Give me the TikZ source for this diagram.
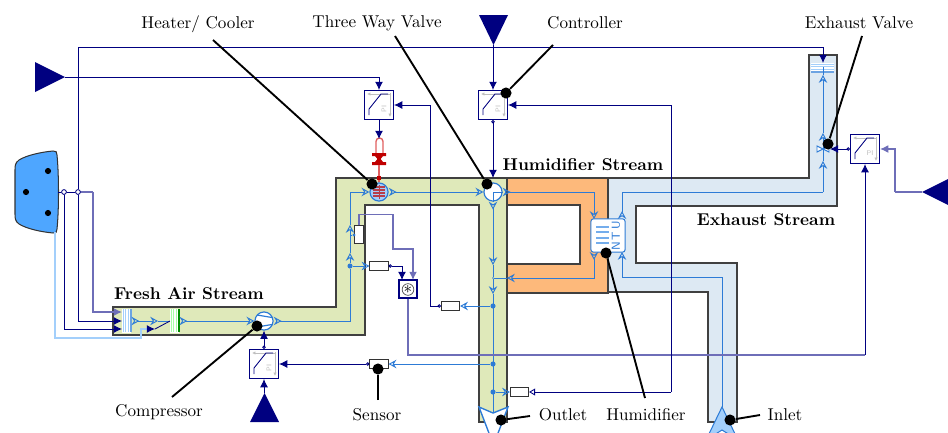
\documentclass[tikz,border=0pt]{standalone}
\usepackage{tikz}
\usetikzlibrary{arrows.meta}

\definecolor{ctrlblue}{HTML}{000080}
\definecolor{softblue}{HTML}{6E6EB8}
\definecolor{flowblue}{HTML}{2D7BD6}
\definecolor{paleblue}{HTML}{A3CFFB}
\definecolor{freshfill}{HTML}{DFE9BA}
\definecolor{humfill}{HTML}{FDB97B}
\definecolor{exhfill}{HTML}{DDE9F3}
\definecolor{connfill}{HTML}{4EA6FF}
\definecolor{heatred}{HTML}{C00000}
\definecolor{heatsoft}{HTML}{E06060}

\tikzset{
  flowtip/.tip={Stealth[open,length=4.6pt,width=5pt,inset=1.6pt]},
  flowrev/.tip={Stealth[open,reversed,length=4.6pt,width=5pt,inset=1.6pt]},
  ctrltip/.tip={Latex[length=4.8pt,width=4.6pt]},
  porttip/.tip={Circle[open,length=2pt,width=2pt]}
}

\begin{document}
\begin{tikzpicture}[
    x=0.585pt, y=-0.585pt,
    channel/.style={draw=black!75, line width=.7pt},
    pipe/.style={draw=flowblue, line width=.55pt},
    pipeend/.style={pipe, -flowtip},
    pipeout/.style={pipe, flowrev-},
    pipeboth/.style={pipe, flowrev-flowtip},
    ctrlline/.style={draw=ctrlblue, line width=.5pt},
    softline/.style={draw=softblue, line width=.7pt},
    ctrlarrow/.style={ctrlline, -ctrltip},
    softarrow/.style={softline, -ctrltip},
    leader/.style={draw=black, line width=1.1pt},
    leaddot/.style={circle, fill=black, minimum size=6.5pt, inner sep=0pt},
    caption/.style={inner sep=0pt},
    stream/.style={inner sep=0pt, font=\bfseries},
    tapdot/.style={circle, fill=flowblue, minimum size=3pt, inner sep=0pt},
    wiredot/.style={circle, draw=ctrlblue, fill=white, line width=.5pt, minimum size=2.8pt, inner sep=0pt},
    sensbox/.style={draw=black!80, fill=white, line width=.6pt, minimum width=10.6pt, minimum height=5.6pt, inner sep=0pt},
    pibox/.style 2 args={draw=ctrlblue, fill=white, line width=.6pt, minimum size=17pt, inner sep=0pt,
      path picture={
        \begin{scope}[shift={(path picture bounding box.center)},#1]
          \draw[draw=black!25, line width=.5pt, -{Latex[length=2pt,width=2pt]}] (12,-11) -- (-12,-11);
          \draw[draw=black!25, line width=.5pt, -{Latex[length=2pt,width=2pt]}] (11,-12) -- (11,12);
          \draw[ctrlline] (-10,10) -- (-10,4) -- (2,-11) -- (9,-11);
          \node[text=black!25, font=\fontsize{4}{4}\selectfont\sffamily, inner sep=0pt, rotate=#2] (pitext) at (5,4) {PI};
        \end{scope}}},
    compart/.style={circle, draw=flowblue, fill=white, line width=.7pt, minimum size=10.6pt, inner sep=0pt}
  ]
    \useasboundingbox (0,0) rectangle (948,432);

    % stream channels
    \draw[channel, fill=freshfill] (113,307) -- (336,307) -- (336,178) -- (507,178) -- (507,422) -- (479,422)
      -- (479,205) -- (365,205) -- (365,335) -- (113,335) -- cycle;
    \draw[channel, fill=humfill] (507,178) -- (608,178) -- (608,293) -- (507,293) -- (507,264) -- (580,264)
      -- (580,205) -- (507,205) -- cycle;
    \draw[channel, fill=exhfill] (608,178) -- (809,178) -- (809,55) -- (837,55) -- (837,206) -- (636,206)
      -- (636,263) -- (737,263) -- (737,422) -- (708,422) -- (708,292) -- (608,292) -- cycle;

    % named points
    \coordinate (airsrc) at (65,77);
    \coordinate (setsrc) at (493,45);
    \coordinate (exhsrc) at (922,192);
    \coordinate (compsrc) at (264,393);
    \coordinate (junca) at (64,192);
    \coordinate (juncb) at (78,192);
    \coordinate (connend) at (58,192);
    \coordinate (wirea) at (122,312);
    \coordinate (wireb) at (122,321);
    \coordinate (wirec) at (122,329);
    \coordinate (wired) at (93,192);
    \coordinate (topturn) at (823,47);
    \coordinate (exhport) at (823,63);
    \coordinate (gaugein) at (155,329);
    \coordinate (gaugeback) at (148,329);
    \coordinate (gaugeend) at (170,321);
    \coordinate (gaugetip) at (158,321);
    \coordinate (palea) at (55,232);
    \coordinate (paleb) at (141,338);
    \coordinate (palec) at (141,329);
    \coordinate (fresha) at (350,253);
    \coordinate (freshb) at (350,235);
    \coordinate (freshc) at (350,225);
    \coordinate (humin) at (594,219);
    \coordinate (humout) at (594,252);
    \coordinate (exhin) at (622,252);
    \coordinate (exhout) at (622,219);
    \coordinate (mixtip) at (507,278);
    \coordinate (exhturna) at (622,277);
    \coordinate (exhturnb) at (823,192);
    \coordinate (exhtipa) at (823,161);
    \coordinate (exhtipb) at (823,133);
    \coordinate (exhtipc) at (823,75);
    \coordinate (exhtop) at (823,67);
    \coordinate (inletport) at (722,407);
    \coordinate (outletport) at (493,413);
    \coordinate (humtip) at (493,265);
    \coordinate (humtipb) at (493,294);
    \coordinate (exhvalve) at (830,149);
    \coordinate (heatstem) at (379,139);
    \coordinate (heatcap) at (379,178);
    \coordinate (valvetop) at (493,178);
    \coordinate (hwirea) at (359,214.5);
    \coordinate (hwirec) at (393,249);
    \coordinate (hwired) at (413,280);
    \coordinate (hwiree) at (402,280);
    \coordinate (humwire) at (430,105);
    \coordinate (armwire) at (865,355);
    \coordinate (setwire) at (671,392);
    \coordinate (exhwire) at (895,192);

    % components
    \node[pibox={}{90}] (heatctl) at (379,105) {};
    \node[pibox={}{90}] (valvectl) at (493,105) {};
    \node[pibox={rotate=-90}{0}] (exhctl) at (865,149) {};
    \node[pibox={yscale=-1}{90}] (compctl) at (264,364) {};
    \node[compart, fill=paleblue] (heater) at (379,192) {};
    \node[compart] (valve) at (493,192) {};
    \node[compart] (compressor) at (264,321) {};
    \node[draw=flowblue, fill=white, rounded corners=1.5pt, line width=.6pt, minimum width=20pt, minimum height=19.5pt, inner sep=0pt] (humid) at (608,235.5) {};
    \node[fill=white, minimum width=5.3pt, minimum height=13.6pt, inner sep=0pt] (freshfilter) at (126.5,321) {};
    \node[fill=white, minimum width=5.3pt, minimum height=13.6pt, inner sep=0pt] (coolfilter) at (174.5,321) {};
    \node[fill=white, minimum width=13.6pt, minimum height=5.6pt, inner sep=0pt] (exhfilter) at (822.5,68) {};
    \node[sensbox] (sensa) at (379,266) {};
    \node[sensbox, minimum width=5.6pt, minimum height=10pt] (sensb) at (359,234.5) {};
    \node[sensbox] (sensc) at (450.5,306) {};
    \node[sensbox] (sensd) at (379,364) {};
    \node[sensbox] (sense) at (519.5,392) {};
    \node[draw=ctrlblue, fill=white, line width=.7pt, minimum size=10.6pt, inner sep=0pt] (mult) at (408,289) {};
    \node[circle, draw=black!70, line width=.4pt, minimum size=5.8pt, inner sep=0pt] (multdot) at (408,289.5) {$\ast$};
    \node[tapdot] (tapa) at (350,266) {};
    \node[tapdot] (tapb) at (493,306) {};
    \node[tapdot] (tapc) at (493,364) {};
    \node[tapdot] (tapd) at (493,392) {};
    \node[tapdot, minimum size=1pt] (tape) at (493,278) {};
    \node[tapdot, minimum size=2pt] (tapf) at (354,235) {};

    % sources and the connector
    \fill[ctrlblue] (35,62) -- (65,77) -- (35,92) -- cycle;
    \fill[ctrlblue] (479,15) -- (508,15) -- (493.5,45) -- cycle;
    \fill[ctrlblue] (948,179) -- (922,192) -- (948,205) -- cycle;
    \fill[ctrlblue] (250,422) -- (279,422) -- (264.5,393) -- cycle;
    \draw[fill=connfill, draw=black!80, line width=.6pt] (19,160) .. controls (27,155) and (42,152) .. (53,151)
      .. controls (56,150.5) and (57,152) .. (57,155) .. controls (59,175) and (59,210) .. (57,229)
      .. controls (57,232) and (56,233.5) .. (53,233) .. controls (42,232) and (27,229) .. (19,224)
      .. controls (15,221) and (15,218) .. (15,214) .. controls (15,200) and (15,184) .. (15,170)
      .. controls (15,166) and (15,163) .. (19,160) -- cycle;
    \node[circle, fill=black, minimum size=3.6pt, inner sep=0pt] (pina) at (48,171) {};
    \node[circle, fill=black, minimum size=3.6pt, inner sep=0pt] (pinb) at (26,192) {};
    \node[circle, fill=black, minimum size=3.6pt, inner sep=0pt] (pinc) at (48,213) {};

    % filters
    \foreach \px in {123,125.5,128} {
      \draw[draw=paleblue, line width=.5pt] (\px,309) -- (\px,332);
      \draw[draw=green!35, line width=.5pt] (\px+48,309) -- (\px+48,332);
    }
    \draw[draw=flowblue!70, line width=.7pt] (131,309) -- (131,332);
    \draw[draw=green!55!black, line width=.8pt] (179,309) -- (179,332);
    \foreach \py in {64,66.5,69} {
      \draw[draw=paleblue, line width=.5pt] (811,\py) -- (834,\py);
    }
    \draw[draw=flowblue!70, line width=.7pt] (811,72) -- (834,72);

    % air path
    \draw[pipeboth] (freshfilter.east) -- (gaugetip);
    \draw[pipe] (gaugetip) -- (coolfilter);
    \draw[pipeboth] (coolfilter.east) -- (compressor);
    \draw[pipeout] (compressor) -| (tapa);
    \draw[pipeend] (tapa) -- (fresha);
    \draw[pipeend] (fresha) -- (freshc);
    \draw[pipe] (freshb) -- (tapf);
    \draw[pipeend] (freshc) |- (heater);
    \draw[pipeboth] (heater) -- (valve);
    \draw[pipeboth] (valve) -| (humin);
    \draw[pipeboth] (valve) -- (humtip);
    \draw[pipe] (humtip) -- (tape);
    \draw[pipeend] (tape) -- (humtipb);
    \draw[pipe] (humtipb) -- (outletport);
    \draw[pipeboth] (humout) |- (mixtip);
    \draw[pipe] (mixtip) -- (tape);
    \draw[pipeend] (tapa) -- (sensa);
    \draw[pipeend] (tapb) -- (sensc);
    \draw[pipeend] (tapc) -- (sensd);
    \draw[pipeend] (tapd) -- (sense);
    \draw[pipe] (inletport) |- (exhturna);
    \draw[pipeend] (exhturna) -- (exhin);
    \draw[pipeout] (exhout) |- (exhturnb);
    \draw[pipeend] (exhturnb) -- (exhtipa);
    \draw[pipeend] (exhtipa) -- (exhtipb);
    \draw[pipeend] (exhtipb) -- (exhtipc);
    \draw[pipe] (exhtipc) -- (exhtop);
    \draw[pipe, fill=white] (817,146) -- (829,152) -- (829,146) -- (817,152) -- cycle;

    % compartment details
    \draw[pipe, line width=.7pt] (257,315) -- (272,317.5);
    \draw[pipe, line width=.7pt] (257,327) -- (272,324.5);
    \foreach \py in {187,190,193,196} {
      \draw[draw=heatred!70!paleblue, line width=.6pt] (373,\py) -- (385,\py);
    }
    \draw[draw=heatred!70!paleblue, line width=.5pt] (379,185) -- (379,199);
    \draw[pipe] (valve.center) -- (valve.east);
    \draw[pipe] (valve.center) -- (valve.south);
    \foreach \py in {227,232,238,243} {
      \draw[draw=paleblue!60!flowblue, line width=.6pt] (596,\py) -- (609,\py);
    }
    \node[text=flowblue, font=\fontsize{6.8}{7}\sffamily, inner sep=0pt, rotate=90] (ntu) at (616,236) {N\,T\,U};

    % heater stem
    \draw[draw=heatsoft, line width=.8pt, rounded corners=2pt] (376,156) -- (376,138) -- (383,138) -- (383,156);
    \fill[heatred] (372,153) -- (386,153) -- (386,156) -- (383,156) -- (379,161) -- (375,156) -- (372,156) -- cycle;
    \fill[heatred] (372,165) -- (386,165) -- (386,162) -- (383,162) -- (379,157) -- (375,162) -- (372,162) -- cycle;
    \draw[draw=heatsoft, line width=1pt] (379,165) -- (heatcap) -- (heater);
    \node[fill=heatred, minimum size=2.4pt, inner sep=0pt] (heatsquare) at (heatcap) {};

    % signal wires
    \node[wiredot] (dota) at (junca) {};
    \node[wiredot] (dotb) at (juncb) {};
    \draw[ctrlline] (connend) -- (dota) -- (dotb);
    \draw[softline] (dotb) -- (wired);
    \draw[softarrow] (wired) |- (wirea);
    \draw[ctrlarrow] (dotb) |- (wireb);
    \draw[ctrlarrow] (dota) |- (wirec);
    \draw[ctrlline] (dotb) |- (topturn);
    \draw[ctrlarrow] (topturn) -- (exhport);
    \draw[draw=paleblue, line width=.9pt] (palea) |- (paleb) -- (palec) -- (gaugeback);
    \draw[ctrlarrow] (gaugeback) -- (gaugein);
    \draw[ctrlline] (gaugein) -- (gaugeend);
    \draw[ctrlarrow] (airsrc) -| (heatctl);
    \draw[ctrlarrow] (setsrc) -- (valvectl);
    \draw[ctrlarrow] (heatctl) -- (heatstem);
    \draw[ctrlline, porttip-ctrltip] (valvectl) -- (valvetop);
    \draw[ctrlline, porttip-ctrltip] (compctl) -- (compressor);
    \draw[ctrlarrow] (compsrc) -- (compctl);
    \draw[ctrlline, porttip-ctrltip] (sensd) -- (compctl);
    \draw[ctrlline, porttip-ctrltip] (exhctl) -- (exhvalve);
    \draw[softline] (exhsrc) -- (exhwire);
    \draw[softarrow] (exhwire) |- (exhctl);
    \draw[ctrlline, porttip-] (sensc) -| (humwire);
    \draw[ctrlarrow] (humwire) -- (heatctl);
    \draw[softline] (mult) |- (armwire);
    \draw[ctrlarrow] (armwire) -- (exhctl);
    \draw[softline, -ctrltip] (sensb.north) |- (hwirea) -| (hwirec) -| (hwired);
    \draw[ctrlline, porttip-ctrltip] (sensa) -| (hwiree);
    \draw[ctrlline, {Stealth[open,length=3.5pt,width=4pt,inset=0pt]}-] (sense) -| (setwire);
    \draw[ctrlarrow] (setwire) |- (valvectl);

    % outlet and inlet
    \draw[pipe, fill=white, line width=.8pt] (479,407) -- (493,413) -- (508,407) -- (493.5,445) -- cycle;
    \draw[draw=flowblue, fill=paleblue, line width=.6pt] (722,407) -- (706,440) -- (722,430) -- (738,440) -- cycle;

    % captions
    \node[stream] (freshtext) at (189,294) {Fresh Air Stream};
    \node[stream] (humtext) at (583,165) {Humidifier Stream};
    \node[stream] (exhtext) at (766,220) {Exhaust Stream};
    \node[caption] (heattext) at (198,24) {Heater/ Cooler};
    \node[caption] (valvetext) at (377,23) {Three Way Valve};
    \node[caption] (ctltext) at (585,23) {Controller};
    \node[caption] (exhtext2) at (859,23) {Exhaust Valve};
    \node[caption] (comptext) at (159,412) {Compressor};
    \node[caption] (senstext) at (377,415) {Sensor};
    \node[caption] (outtext) at (563,415) {Outlet};
    \node[caption] (hutext) at (646,415) {Humidifier};
    \node[caption] (intext) at (785,415) {Inlet};

    % leader lines
    \node[leaddot] (heatdot) at (372,184) {};
    \node[leaddot] (valvedot) at (487,184) {};
    \node[leaddot] (ctldot) at (506,93) {};
    \node[leaddot] (exhdot) at (828,144) {};
    \node[leaddot] (compdot) at (257,326) {};
    \node[leaddot] (sensdot) at (378,369) {};
    \node[leaddot] (outdot) at (501,420) {};
    \node[leaddot] (hudot) at (606,253) {};
    \node[leaddot] (indot) at (730,420) {};
    \coordinate (heatfree) at (213,40);
    \coordinate (valvefree) at (395,36);
    \coordinate (ctlfree) at (553,45);
    \coordinate (exhfree) at (862,36);
    \coordinate (compfree) at (172,397);
    \coordinate (sensfree) at (378,400);
    \coordinate (outfree) at (530,416);
    \coordinate (hufree) at (645,398);
    \coordinate (infree) at (760,415);
    \draw[leader] (heatfree) -- (heatdot);
    \draw[leader] (valvefree) -- (valvedot);
    \draw[leader] (ctlfree) -- (ctldot);
    \draw[leader] (exhfree) -- (exhdot);
    \draw[leader] (compfree) -- (compdot);
    \draw[leader] (sensfree) -- (sensdot);
    \draw[leader] (outfree) -- (outdot);
    \draw[leader] (hufree) -- (hudot);
    \draw[leader] (infree) -- (indot);
  \end{tikzpicture}
\end{document}
